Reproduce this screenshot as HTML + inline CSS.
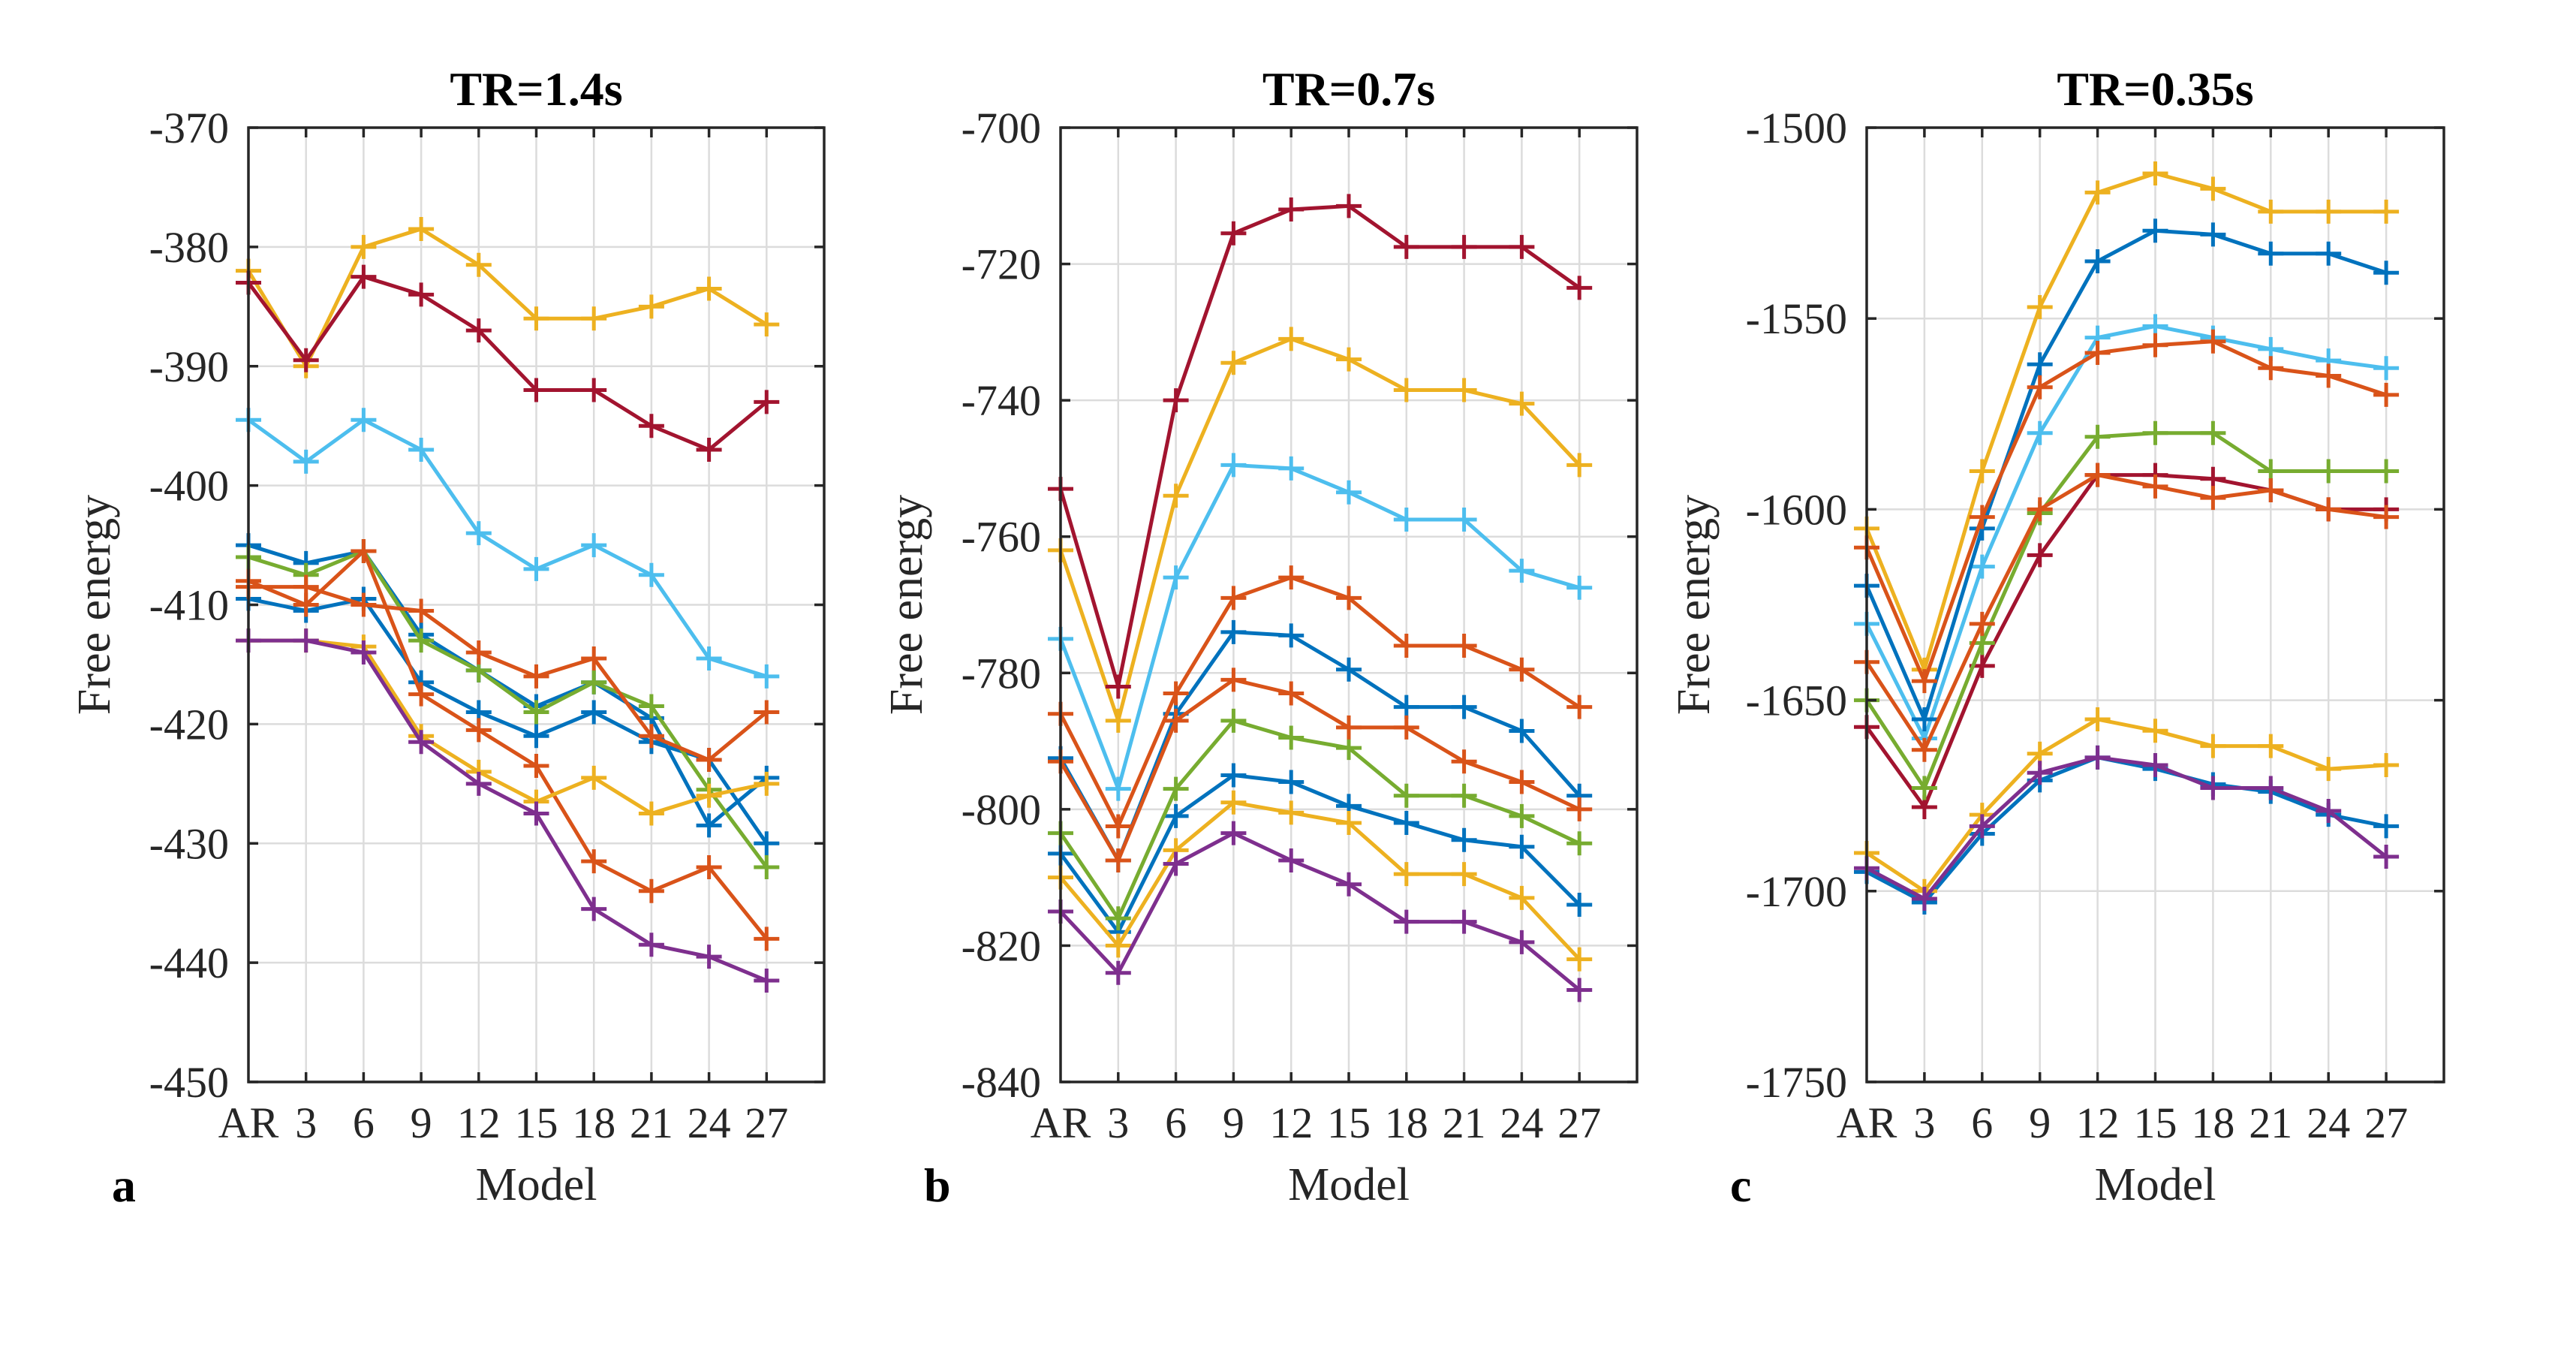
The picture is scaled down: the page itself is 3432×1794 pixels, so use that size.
<!DOCTYPE html>
<html><head><meta charset="utf-8">
<style>
html,body{margin:0;padding:0;background:#fff;}
svg{display:block;font-family:"Liberation Serif","Times New Roman",serif;}
</style></head>
<body>
<svg id="fig" width="3432" height="1794" viewBox="0 0 3432 1794" xmlns="http://www.w3.org/2000/svg"></svg>
<script>
// ---- data ----
const categories = ["AR","3","6","9","12","15","18","21","24","27"];
const seriesColors = ["#EDB120","#A2142F","#4DBEEE","#0072BD","#0072BD","#77AC30","#D95319","#D95319","#EDB120","#7E2F8E"];
const seriesNames = ["yellow-1","darkred","lightblue","blue-1","blue-2","green","orange-1","orange-2","yellow-2","purple"];

const panelATitle = "TR=1.4s";
const panelATicks = [-370,-380,-390,-400,-410,-420,-430,-440,-450];
const panelAValues = [
 [-382,-390,-380,-378.5,-381.5,-386,-386,-385,-383.5,-386.5],
 [-383,-389.5,-382.5,-384,-387,-392,-392,-395,-397,-393],
 [-394.5,-398,-394.5,-397,-404,-407,-405,-407.5,-414.5,-416],
 [-405,-406.5,-405.5,-412.5,-415.5,-418.5,-416.5,-419.5,-428.5,-424.5],
 [-409.5,-410.5,-409.5,-416.5,-419,-421,-419,-421.5,-423,-430],
 [-406,-407.5,-405.5,-413,-415.5,-419,-416.5,-418.5,-425.5,-432],
 [-408.5,-408.5,-410,-410.5,-414,-416,-414.5,-421,-423,-419],
 [-408,-410,-405.5,-417.5,-420.5,-423.5,-431.5,-434,-432,-438],
 [-413,-413,-413.5,-421,-424,-426.5,-424.5,-427.5,-426,-425],
 [-413,-413,-414,-421.5,-425,-427.5,-435.5,-438.5,-439.5,-441.5]
];

const panelBTitle = "TR=0.7s";
const panelBTicks = [-700,-720,-740,-760,-780,-800,-820,-840];
const panelBValues = [
 [-762,-787,-754,-734.5,-731,-734,-738.5,-738.5,-740.5,-749.5],
 [-753,-782,-740,-715.5,-712,-711.5,-717.5,-717.5,-717.5,-723.5],
 [-775,-797,-766,-749.5,-750,-753.5,-757.5,-757.5,-765,-767.5],
 [-792.5,-807.5,-786,-774,-774.5,-779.5,-785,-785,-788.5,-798],
 [-806.5,-818,-801,-795,-796,-799.5,-802,-804.5,-805.5,-814],
 [-803.5,-816,-797,-787,-789.5,-791,-798,-798,-801,-805],
 [-786,-802.5,-783,-769,-766,-769,-776,-776,-779.5,-785],
 [-793,-807.5,-787,-781,-783,-788,-788,-793,-796,-800],
 [-810,-820,-806,-799,-800.5,-802,-809.5,-809.5,-813,-822],
 [-815,-824,-808,-803.5,-807.5,-811,-816.5,-816.5,-819.5,-826.5]
];

const panelCTitle = "TR=0.35s";
const panelCTicks = [-1500,-1550,-1600,-1650,-1700,-1750];
const panelCValues = [
 [-1605,-1642,-1590,-1547,-1517,-1512,-1516,-1522,-1522,-1522],
 [-1657,-1678,-1641,-1612,-1591,-1591,-1592,-1595,-1600,-1600],
 [-1630,-1660,-1615,-1580,-1555,-1552,-1555,-1558,-1561,-1563],
 [-1620,-1655,-1605,-1562,-1535,-1527,-1528,-1533,-1533,-1538],
 [-1695,-1703,-1685,-1671,-1665,-1668,-1672,-1674,-1680,-1683],
 [-1650,-1673,-1635,-1601,-1581,-1580,-1580,-1590,-1590,-1590],
 [-1610,-1645,-1602,-1568,-1559,-1557,-1556,-1563,-1565,-1570],
 [-1640,-1663,-1630,-1600,-1591,-1594,-1597,-1595,-1600,-1602],
 [-1690,-1700,-1680,-1664,-1655,-1658,-1662,-1662,-1668,-1667],
 [-1694,-1702,-1683,-1669,-1665,-1667,-1673,-1673,-1679,-1691]
];

const NS = "http://www.w3.org/2000/svg";
const svg = document.getElementById("fig");
function mk(tag, attrs, parent){
  const e = document.createElementNS(NS, tag);
  for (const k in attrs) e.setAttribute(k, attrs[k]);
  (parent||svg).appendChild(e);
  return e;
}

function drawPanel(key, left, right, title, ticks, values, letter, yTitleOffset){
  const top = 170, bottom = 1441;
  const yMax = Math.max(...ticks), yMin = Math.min(...ticks);
  const xs = i => left + (right-left) * i / categories.length;
  const ys = v => top + (yMax - v) / (yMax - yMin) * (bottom - top);
  const g = mk("g", {});
  
  

  const grid = mk("g", {stroke:"#dcdcdc","stroke-width":2.5}, g);
  
  
  categories.forEach((c,i)=>{ if(i>0) mk("line",{x1:xs(i),x2:xs(i),y1:top,y2:bottom},grid); });
  ticks.forEach(t=>{ mk("line",{x1:left,x2:right,y1:ys(t),y2:ys(t)},grid); });

  values.forEach((vals,si)=>{
    const sg = mk("g",{stroke:seriesColors[si],"stroke-width":5,fill:"none"},g);
    
    
    const pts = vals.map((v,i)=>xs(i)+","+ys(v)).join(" ");
    const pl = mk("polyline",{points:pts,"stroke-linejoin":"round"},sg);
    
    
    vals.forEach((v,i)=>{
      const x = xs(i), y = ys(v);
      const m = mk("path",{d:`M${x-17},${y}H${x+17}M${x},${y-16}V${y+16}`},sg);
      
      
    });
  });

  const ax = mk("g",{stroke:"#262626","stroke-width":3.5,fill:"none"},g);
  
  
  mk("rect",{x:left,y:top,width:right-left,height:bottom-top},ax);
  categories.forEach((c,i)=>{
    if(i>0){ mk("line",{x1:xs(i),x2:xs(i),y1:bottom,y2:bottom-13},ax);
             mk("line",{x1:xs(i),x2:xs(i),y1:top,y2:top+13},ax); }
  });
  ticks.forEach(t=>{
    mk("line",{x1:left,x2:left+13,y1:ys(t),y2:ys(t)},ax);
    mk("line",{x1:right,x2:right-13,y1:ys(t),y2:ys(t)},ax);
  });

  categories.forEach((c,i)=>{
    const t = mk("text",{x:xs(i),y:1515,"font-size":58,fill:"#262626","text-anchor":"middle"},g);
    t.textContent = c;
    
    
  });
  ticks.forEach(v=>{
    const t = mk("text",{x:left-26,y:ys(v)+20,"font-size":58,fill:"#262626","text-anchor":"end"},g);
    t.textContent = String(v);
    
    
  });

  const tt = mk("text",{x:(left+right)/2,y:140,"font-size":64,"font-weight":"bold",fill:"#000","text-anchor":"middle"},g);
  tt.textContent = title;
  
  

  const xl = mk("text",{x:(left+right)/2,y:1598,"font-size":62,fill:"#262626","text-anchor":"middle"},g);
  xl.textContent = "Model";
  
  

  const yx = left - yTitleOffset, yy = (top+bottom)/2;
  const yl = mk("text",{x:yx,y:yy,"font-size":62,fill:"#262626","text-anchor":"middle",transform:`rotate(-90 ${yx} ${yy})`},g);
  yl.textContent = "Free energy";
  
  

  const pl = mk("text",{x:left-182,y:1600,"font-size":64,"font-weight":"bold",fill:"#000"},g);
  pl.textContent = letter;
  
  
}

drawPanel("a", 331, 1098, panelATitle, panelATicks, panelAValues, "a", 185);
drawPanel("b", 1413, 2181, panelBTitle, panelBTicks, panelBValues, "b", 185);
drawPanel("c", 2487, 3256, panelCTitle, panelCTicks, panelCValues, "c", 210);
</script>
</body></html>
